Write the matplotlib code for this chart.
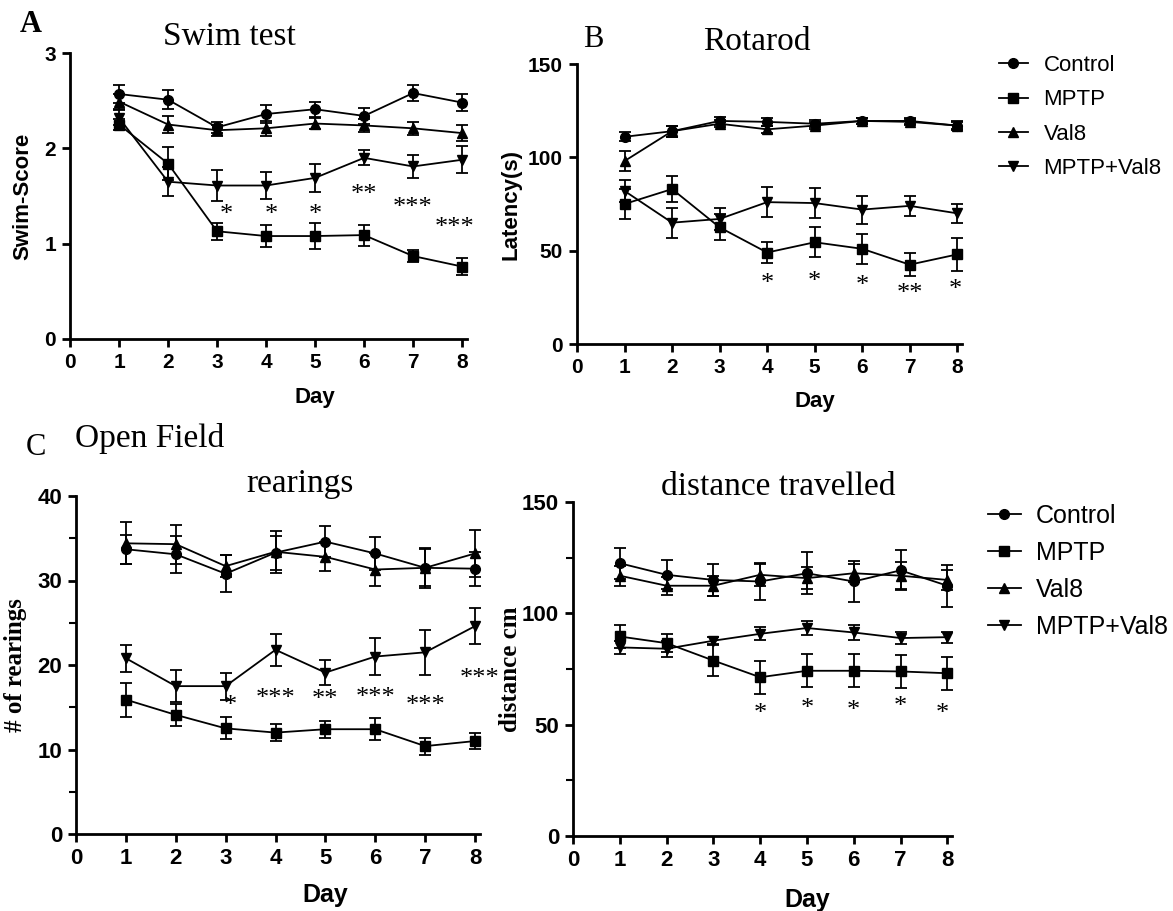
import matplotlib
matplotlib.use('Agg')
import matplotlib.pyplot as plt
from matplotlib.ticker import MultipleLocator

plt.rcParams['font.family'] = ['Liberation Sans', 'DejaVu Sans']
SERIF = ['Liberation Serif', 'DejaVu Serif']

days = [1, 2, 3, 4, 5, 6, 7, 8]
groups = ['Control', 'MPTP', 'Val8', 'MPTP+Val8']
markers = {'Control': 'o', 'MPTP': 's', 'Val8': '^', 'MPTP+Val8': 'v'}

# A - swim test
swim_control = [2.57, 2.51, 2.22, 2.36, 2.41, 2.34, 2.58, 2.48]
swim_control_err = [0.09, 0.10, 0.06, 0.09, 0.08, 0.08, 0.08, 0.09]
swim_mptp = [2.25, 1.84, 1.13, 1.08, 1.08, 1.09, 0.87, 0.76]
swim_mptp_err = [0.06, 0.17, 0.09, 0.12, 0.14, 0.11, 0.06, 0.09]
swim_val8 = [2.49, 2.25, 2.19, 2.21, 2.26, 2.24, 2.21, 2.16]
swim_val8_err = [0.08, 0.09, 0.06, 0.08, 0.06, 0.07, 0.07, 0.08]
swim_mv = [2.32, 1.65, 1.61, 1.61, 1.69, 1.90, 1.81, 1.88]
swim_mv_err = [0.08, 0.15, 0.16, 0.14, 0.15, 0.08, 0.12, 0.14]
swim_stars = ['*', '*', '*', '**', '***', '***']
swim_star_x = [3.2, 4.1, 5.0, 6.0, 7.0, 7.85]
swim_star_y = [1.30, 1.30, 1.30, 1.51, 1.37, 1.16]

# B - rotarod
rot_control = [111, 114, 119.5, 119, 118, 119.5, 119.5, 117]
rot_control_err = [2.5, 3, 2, 2, 2, 1.5, 1.5, 2.5]
rot_mptp = [75, 83, 62.5, 49, 54.5, 51, 42.5, 48]
rot_mptp_err = [8, 7, 7, 5.5, 8, 8, 6, 9]
rot_val8 = [98, 114, 118, 115, 117, 119.5, 119, 117]
rot_val8_err = [5.5, 3, 2, 2, 2, 1.5, 1.5, 2]
rot_mv = [82, 65, 67, 76, 75.5, 72, 74, 70]
rot_mv_err = [6, 8, 6, 8, 8, 7.5, 5.5, 5]
rot_stars = ['*', '*', '*', '**', '*']
rot_star_x = [4.0, 5.0, 6.0, 7.0, 7.95]
rot_star_y = [32, 33, 31, 27, 29]

# C - open field, rearings
rear_control = [33.7, 33.1, 30.8, 33.3, 34.6, 33.2, 31.5, 31.4]
rear_control_err = [1.7, 2.2, 2.2, 2.0, 1.8, 2.0, 2.2, 2.0]
rear_mptp = [15.9, 14.1, 12.5, 12.0, 12.4, 12.4, 10.4, 11.0]
rear_mptp_err = [2.0, 1.3, 1.3, 1.0, 1.0, 1.3, 1.0, 0.9]
rear_val8 = [34.4, 34.3, 31.7, 33.4, 32.8, 31.3, 31.5, 33.2]
rear_val8_err = [2.5, 2.3, 1.3, 2.5, 1.7, 1.9, 2.4, 2.8]
rear_mv = [20.8, 17.5, 17.5, 21.8, 19.1, 21.0, 21.5, 24.6]
rear_mv_err = [1.6, 1.9, 1.6, 1.9, 1.5, 2.2, 2.7, 2.1]
rear_stars = ['*', '***', '**', '***', '***', '***']
rear_star_x = [3.1, 4.0, 5.0, 6.0, 7.0, 8.1]
rear_star_y = [15.2, 16.0, 15.8, 16.1, 15.2, 18.4]

# C - open field, distance travelled
dist_control = [122.5, 117.3, 115, 114.3, 118, 114.3, 119.3, 112.4]
dist_control_err = [7, 6.5, 7, 8.5, 9.5, 9, 9, 9.5]
dist_mptp = [89.6, 86.6, 78.8, 71.3, 74.2, 74.2, 73.9, 73.1]
dist_mptp_err = [5, 4, 7, 7.5, 7.5, 7.5, 7.5, 7.5]
dist_val8 = [116.9, 112.4, 112.4, 117.3, 115.8, 118, 116.9, 115]
dist_val8_err = [4.5, 4, 4.5, 5, 5, 4, 6, 4.5]
dist_mv = [84.7, 84.1, 87.7, 90.8, 93.4, 91.4, 88.9, 89.3]
dist_mv_err = [3, 3.5, 1.5, 3, 3, 3.5, 2.5, 2.5]
dist_stars = ['*', '*', '*', '*', '*']
dist_star_x = [4.0, 5.0, 6.0, 7.0, 7.9]
dist_star_y = [55, 57, 56, 58, 55]


def draw_panel(ax, means, errs, ymax, ystep, minor, tick_fs, stars, sx, sy):
    handles = []
    for g in ['Control', 'Val8', 'MPTP', 'MPTP+Val8']:
        c = ax.errorbar(days, means[g], yerr=errs[g], color='black',
                        marker=markers[g], ms=7, lw=1.3, capsize=4.5,
                        elinewidth=1.3, capthick=1.3, clip_on=False)
        handles.append((g, c[0]))
    ax.set_xlim(0, 8.1)
    ax.set_ylim(0, ymax)
    ax.set_xticks(range(9), labels=[str(i) for i in range(9)],
                  fontweight='bold', fontsize=tick_fs)
    yt = list(range(0, ymax + 1, ystep))
    ax.set_yticks(yt, labels=[str(v) for v in yt], fontweight='bold',
                  fontsize=tick_fs)
    if minor:
        ax.yaxis.set_minor_locator(MultipleLocator(minor))
        ax.tick_params(axis='y', which='minor', length=5, width=1.5)
    for s in ['top', 'right']:
        ax.spines[s].set_visible(False)
    for s in ['left', 'bottom']:
        ax.spines[s].set_linewidth(2)
    ax.tick_params(which='major', length=6, width=2, pad=4)
    # significance marks, MPTP vs MPTP+Val8
    for t, x, y in zip(stars, sx, sy):
        ax.text(x, y, t, ha='center', va='center', fontsize=19,
                family=SERIF)
    d = dict(handles)
    return [d[g] for g in groups]


fig = plt.figure(figsize=(11.73, 9.11), dpi=100)
W, H = 1173, 911


def add_ax(left, right, bottom, top):
    return fig.add_axes([left / W, 1 - bottom / H, (right - left) / W,
                         (bottom - top) / H])


axA = add_ax(70, 467, 339, 53)
axB = add_ax(577, 962, 344, 64)
axC = add_ax(76, 480, 834, 496)
axD = add_ax(573, 952, 836, 502)

hA = draw_panel(axA,
                {'Control': swim_control, 'MPTP': swim_mptp, 'Val8': swim_val8,
                 'MPTP+Val8': swim_mv},
                {'Control': swim_control_err, 'MPTP': swim_mptp_err,
                 'Val8': swim_val8_err, 'MPTP+Val8': swim_mv_err},
                3, 1, None, 15, swim_stars, swim_star_x, swim_star_y)
hB = draw_panel(axB,
                {'Control': rot_control, 'MPTP': rot_mptp, 'Val8': rot_val8,
                 'MPTP+Val8': rot_mv},
                {'Control': rot_control_err, 'MPTP': rot_mptp_err,
                 'Val8': rot_val8_err, 'MPTP+Val8': rot_mv_err},
                150, 50, None, 15, rot_stars, rot_star_x, rot_star_y)
hC = draw_panel(axC,
                {'Control': rear_control, 'MPTP': rear_mptp, 'Val8': rear_val8,
                 'MPTP+Val8': rear_mv},
                {'Control': rear_control_err, 'MPTP': rear_mptp_err,
                 'Val8': rear_val8_err, 'MPTP+Val8': rear_mv_err},
                40, 10, 5, 16, rear_stars, rear_star_x, rear_star_y)
hD = draw_panel(axD,
                {'Control': dist_control, 'MPTP': dist_mptp, 'Val8': dist_val8,
                 'MPTP+Val8': dist_mv},
                {'Control': dist_control_err, 'MPTP': dist_mptp_err,
                 'Val8': dist_val8_err, 'MPTP+Val8': dist_mv_err},
                150, 50, 25, 16, dist_stars, dist_star_x, dist_star_y)

# axis labels
axA.set_ylabel('Swim-Score', fontsize=16, fontweight='bold')
axA.yaxis.set_label_coords(-0.093, 0.5)
axB.set_ylabel('Latency(s)', fontsize=16, fontweight='bold')
axB.yaxis.set_label_coords(-0.143, 0.5)
axC.set_ylabel('# of rearings', fontsize=18, fontweight='bold', family=SERIF)
axC.yaxis.set_label_coords(-0.121, 0.5)
axD.set_ylabel('distance cm', fontsize=18, fontweight='bold', family=SERIF)
axD.yaxis.set_label_coords(-0.135, 0.5)
for ax, fs, yy in [(axA, 16, -0.168), (axB, 16, -0.168),
                   (axC, 18, -0.145), (axD, 18, -0.156)]:
    ax.set_xlabel('Day', fontsize=fs, fontweight='bold')
    ax.xaxis.set_label_coords(5 / 8.1, yy)

# titles and panel letters
def ftext(x, y, s, **kw):
    fig.text(x / W, 1 - y / H, s, family=SERIF, va='baseline', **kw)

ftext(20, 32, 'A', fontsize=22, fontweight='bold')
ftext(229, 45, 'Swim test', fontsize=24, ha='center')
ftext(583, 47, 'B', fontsize=22)
ftext(757, 50, 'Rotarod', fontsize=24, ha='center')
ftext(26, 455, 'C', fontsize=22)
ftext(75, 447, 'Open Field', fontsize=24)
ftext(300, 492, 'rearings', fontsize=24, ha='center')
ftext(778, 495, 'distance travelled', fontsize=24, ha='center')

# legends
fig.legend(hA, groups, loc='upper left', bbox_to_anchor=(999 / W, 1 - 55 / H),
           frameon=False, fontsize=16, handlelength=1.3, handletextpad=0.7,
           labelspacing=0.6, borderpad=0, borderaxespad=0)
fig.legend(hC, groups, loc='upper left', bbox_to_anchor=(988 / W, 1 - 504 / H),
           frameon=False, fontsize=18, handlelength=1.3, handletextpad=0.6,
           labelspacing=0.52, borderpad=0, borderaxespad=0)

fig.savefig('out.png', dpi=100)
